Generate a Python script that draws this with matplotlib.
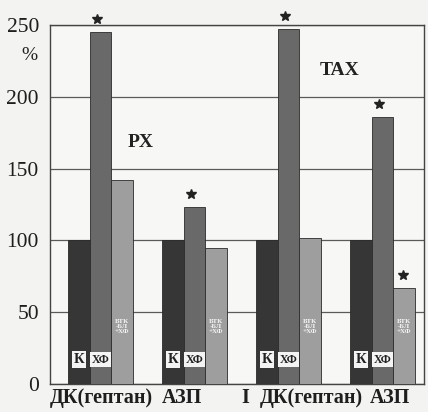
import matplotlib
matplotlib.use("Agg")
import matplotlib.pyplot as plt
import numpy as np

# Groups: two media (РХ, ТАХ), two indicators each
groups = ["ДК(гептан)", "АЗП", "ДК(гептан)", "АЗП"]
k_vals = [100, 100, 100, 100]
hf_vals = [245, 123, 247, 186]
btk_vals = [142, 95, 102, 67]
series_labels = ["К", "ХФ", "БТК\n-БЛ\n+ХФ"]
hf_star = [True, True, True, True]
btk_star = [False, False, False, True]
yticks = [0, 50, 100, 150, 200, 250]
panel_labels = ["PX", "TAX"]

plt.rcParams["font.family"] = ["Liberation Serif", "DejaVu Serif"]

fig = plt.figure(figsize=(4.28, 4.12), dpi=100, facecolor="#f3f3f1")
ax = fig.add_axes([50 / 428, 28 / 412, 374 / 428, 359 / 412])
ax.set_facecolor("#f7f7f5")

spacing = 4.37
centers = np.arange(len(groups)) * spacing
w = 1.0
colors = ["#363636", "#696969", "#9e9e9e"]
offs = [-1, 0, 1]
series = [k_vals, hf_vals, btk_vals]

for s, (vals, col, off) in enumerate(zip(series, colors, offs)):
    ax.bar(centers + off * w, vals, width=w, color=col, edgecolor="#2a2a2a",
           linewidth=0.6, zorder=3)

# significance markers
for i, c in enumerate(centers):
    if hf_star[i]:
        ax.plot(c - 0.15, hf_vals[i] + 9, marker="*", color="#222222",
                markersize=7, zorder=4, clip_on=False)
    if btk_star[i]:
        ax.plot(c + w - 0.05, btk_vals[i] + 9, marker="*", color="#222222",
                markersize=7, zorder=4, clip_on=False)

# in-bar labels
for c in centers:
    ax.text(c - w, 17, series_labels[0], ha="center", va="center",
            fontsize=10.5, fontweight="bold", color="#222222", zorder=5,
            bbox=dict(boxstyle="square,pad=0.12", fc="#f4f4f4", ec="none"))
    ax.text(c, 17, series_labels[1], ha="center", va="center",
            fontsize=8.5, fontweight="bold", color="#222222", zorder=5,
            bbox=dict(boxstyle="square,pad=0.15", fc="#f4f4f4", ec="none"))
    ax.text(c + w, 40, series_labels[2], ha="center", va="center",
            fontsize=5, fontweight="bold", color="#f5f5f5", zorder=5,
            linespacing=1.05)

ax.set_ylim(0, 250)
ax.set_xlim(-2.35, 15.05)
ax.set_yticks(yticks)
ax.set_yticklabels([str(v) for v in yticks], fontsize=15.5)
ax.tick_params(axis="y", length=0, pad=8, colors="#1e1e1e")
ax.yaxis.grid(True, color="#5a5a5a", linewidth=0.9, zorder=1)

# category labels
label_pos = [0.02, 3.79, 6.72, 9.79, 13.47]
label_txt = [groups[0], groups[1], "I", groups[2], groups[3]]
ax.set_xticks(label_pos)
ax.set_xticklabels(label_txt, fontsize=14.5, fontweight="bold")
ax.tick_params(axis="x", length=0, pad=3, colors="#1e1e1e")

for sp in ax.spines.values():
    sp.set_color("#444444")
    sp.set_linewidth(1.0)

ax.text(-3.3, 229, "%", fontsize=14, ha="center", va="center",
        color="#222222", clip_on=False)
ax.text(1.88, 168, panel_labels[0], fontsize=14, fontweight="bold",
        ha="center", va="center", color="#222222")
ax.text(11.1, 218, panel_labels[1], fontsize=14, fontweight="bold",
        ha="center", va="center", color="#222222")

fig.savefig("out.png", dpi=100, facecolor=fig.get_facecolor())
